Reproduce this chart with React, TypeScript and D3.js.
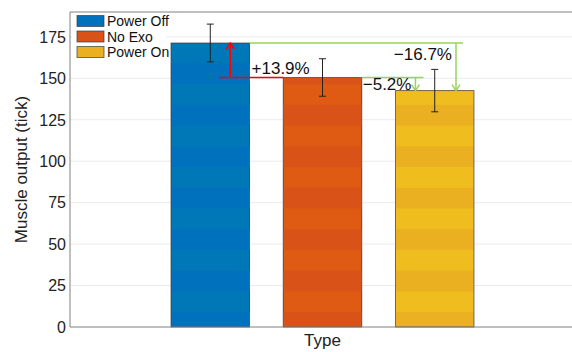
import React from "react";
import * as d3 from "d3";

const seriesNames = ["Power Off", "No Exo", "Power On"];
const seriesMeans = [171.3, 150.5, 142.6];
const seriesErrors = [11.4, 11.3, 12.8];
const groupLabel = "Type";
const yTicks = [0, 25, 50, 75, 100, 125, 150, 175];
const annotationLabels = ["+13.9%", "\u22125.2%", "\u221216.7%"];

const baseColors = ["#0072BD", "#D95319", "#EBB021"];
const stripeColors = ["#0078B7", "#DF5A12", "#EFBD1E"];

const W = 572;
const H = 352;
const margin = { top: 12, right: -3, bottom: 25, left: 70 };
const FONT = "'Liberation Sans', Arial, Helvetica, sans-serif";
const RED = "#FF0000";
const GREEN = "#98D35C";

const App: React.FC = () => {
  const x = d3
    .scaleLinear()
    .domain([0.5, 1.5])
    .range([margin.left, W - margin.right]);
  const y = d3
    .scaleLinear()
    .domain([0, 190])
    .range([H - margin.bottom, margin.top]);

  const xs = d3
    .scaleBand()
    .domain(seriesNames)
    .range([x(2 / 3), x(4 / 3)])
    .paddingInner(0.3)
    .paddingOuter(0.15);

  const bw = xs.bandwidth();
  const left = (i: number) => xs(seriesNames[i]) || 0;
  const cx = (i: number) => left(i) + bw / 2;
  const right = (i: number) => left(i) + bw;

  // light stripes inside the bars (every 12.5 units, offset 9)
  const stripes: { i: number; lo: number; hi: number }[] = [];
  seriesMeans.forEach((m, i) => {
    for (let k = 0; 9 + 12.5 * k < m; k += 2) {
      const lo = 9 + 12.5 * k;
      const hi = Math.min(m, lo + 12.5);
      stripes.push({ i, lo, hi });
    }
  });

  const arrowUp = (ax: number, ay: number) =>
    `M${ax - 4},${ay + 6} L${ax},${ay} L${ax + 4},${ay + 6}`;
  const arrowDown = (ax: number, ay: number) =>
    `M${ax - 4},${ay - 6} L${ax},${ay} L${ax + 4},${ay - 6}`;

  const [mOff, mNo, mOn] = seriesMeans;

  return (
    <svg
      width={W}
      height={H}
      style={{ position: "absolute", left: 0, top: 0, background: "#fff" }}
      fontFamily={FONT}
    >
      {/* grid */}
      {yTicks.slice(1).map((t) => (
        <line
          key={"g" + t}
          x1={x(0.5)}
          x2={x(1.5)}
          y1={y(t)}
          y2={y(t)}
          stroke="#EBEBEB"
          strokeWidth={1}
        />
      ))}

      {/* bars */}
      {seriesMeans.map((m, i) => (
        <rect
          key={"b" + i}
          x={left(i)}
          y={y(m)}
          width={bw}
          height={y(0) - y(m)}
          fill={baseColors[i]}
        />
      ))}
      {stripes.map((s, j) => (
        <rect
          key={"s" + j}
          x={left(s.i)}
          y={y(s.hi)}
          width={bw}
          height={y(s.lo) - y(s.hi)}
          fill={stripeColors[s.i]}
        />
      ))}
      {seriesMeans.map((m, i) => (
        <rect
          key={"o" + i}
          x={left(i)}
          y={y(m)}
          width={bw}
          height={y(0) - y(m)}
          fill="none"
          stroke="#3a3a3a"
          strokeOpacity={0.75}
          strokeWidth={0.9}
        />
      ))}

      {/* error bars */}
      {seriesMeans.map((m, i) => {
        const e = seriesErrors[i];
        return (
          <g key={"e" + i} stroke="#222" strokeWidth={1}>
            <line x1={cx(i)} x2={cx(i)} y1={y(m + e)} y2={y(m - e)} />
            <line x1={cx(i) - 3.5} x2={cx(i) + 3.5} y1={y(m + e)} y2={y(m + e)} />
            <line x1={cx(i) - 3.5} x2={cx(i) + 3.5} y1={y(m - e)} y2={y(m - e)} />
          </g>
        );
      })}

      {/* axes frame */}
      <line x1={x(0.5)} x2={x(1.5)} y1={y(0)} y2={y(0)} stroke="#808080" />
      <line x1={x(0.5)} x2={x(1.5)} y1={y(190)} y2={y(190)} stroke="#808080" />
      <line x1={x(0.5)} x2={x(0.5)} y1={y(0)} y2={y(190)} stroke="#808080" />

      {/* y tick labels */}
      {yTicks.map((t) => (
        <text
          key={"t" + t}
          x={x(0.5) - 4}
          y={y(t)}
          dy="0.36em"
          textAnchor="end"
          fontSize={16}
          fill="#222"
        >
          {t}
        </text>
      ))}

      {/* axis labels */}
      <text
        x={x(1)}
        y={H - 6}
        textAnchor="middle"
        fontSize={17}
        fill="#222"
      >
        {groupLabel}
      </text>
      <text
        transform={`translate(27,${(y(0) + y(190)) / 2}) rotate(-90)`}
        textAnchor="middle"
        fontSize={17}
        fill="#222"
      >
        Muscle output (tick)
      </text>

      {/* red: No Exo -> Power Off */}
      <g stroke={RED} strokeWidth={1.5} fill="none">
        <line x1={cx(0) + 8.5} x2={left(1)} y1={y(mNo)} y2={y(mNo)} />
        <line x1={cx(0) + 20} x2={cx(0) + 20} y1={y(mNo)} y2={y(mOff)} />
        <path d={arrowUp(cx(0) + 20, y(mOff))} />
      </g>
      <text x={right(0) + 2} y={y(mNo) - 3} fontSize={17} fill="#111">
        {annotationLabels[0]}
      </text>

      {/* green: Power Off -> Power On */}
      <g stroke={GREEN} strokeWidth={1.5} fill="none">
        <line x1={right(0)} x2={right(2) - 11} y1={y(mOff)} y2={y(mOff)} />
        <line x1={right(2) - 18} x2={right(2) - 18} y1={y(mOff)} y2={y(mOn)} />
        <path d={arrowDown(right(2) - 18, y(mOn))} />
        <line x1={right(1)} x2={left(2) + 28} y1={y(mNo)} y2={y(mNo)} />
        <line x1={left(2) + 20} x2={left(2) + 20} y1={y(mNo)} y2={y(mOn)} />
        <path d={arrowDown(left(2) + 20, y(mOn))} />
      </g>
      <text x={right(2) - 22} y={y(mOff) + 17} textAnchor="end" fontSize={17} fill="#111">
        {annotationLabels[2]}
      </text>
      <text x={right(1) + 1} y={y(mNo) + 13} fontSize={17} fill="#111">
        {annotationLabels[1]}
      </text>

      {/* legend */}
      <rect x={72} y={13} width={94} height={48} fill="#fff" />
      {seriesNames.map((n, i) => (
        <g key={"l" + i} transform={`translate(77,${21 + i * 15.5})`}>
          <rect
            x={0}
            y={-5.5}
            width={27}
            height={11}
            fill={baseColors[i]}
            stroke="#3a3a3a"
            strokeOpacity={0.75}
            strokeWidth={0.9}
          />
          <text x={30} y={0} dy="0.36em" fontSize={14} fill="#111">
            {n}
          </text>
        </g>
      ))}
    </svg>
  );
};

export default App;
